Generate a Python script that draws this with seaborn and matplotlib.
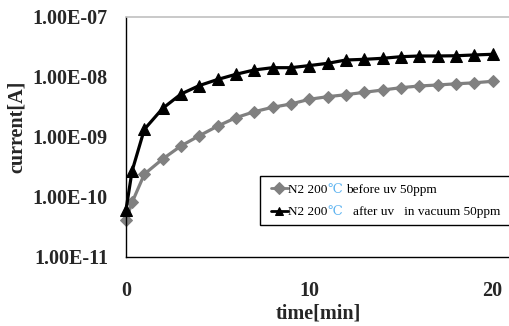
import numpy as np
import pandas as pd
import matplotlib
matplotlib.use("Agg")
import matplotlib.pyplot as plt
import matplotlib.text as mtext
from matplotlib.transforms import offset_copy
from matplotlib.ticker import FixedLocator, FixedFormatter, NullLocator
from matplotlib.legend_handler import HandlerLine2D
import seaborn as sns

time_min = [0, 0.33, 1, 2, 3, 4, 5, 6, 7, 8, 9, 10, 11, 12, 13, 14, 15, 16, 17, 18, 19, 20]
before_uv = [4.1e-11, 8.1e-11, 2.4e-10, 4.3e-10, 7.1e-10, 1.05e-9, 1.52e-9, 2.1e-9,
             2.64e-9, 3.13e-9, 3.55e-9, 4.25e-9, 4.7e-9, 5.07e-9, 5.56e-9, 6.07e-9,
             6.64e-9, 7.08e-9, 7.36e-9, 7.7e-9, 8.0e-9, 8.48e-9]
after_uv = [6.1e-11, 2.7e-10, 1.34e-9, 3.0e-9, 5.2e-9, 7.2e-9, 9.1e-9, 1.11e-8,
            1.31e-8, 1.43e-8, 1.43e-8, 1.55e-8, 1.69e-8, 1.92e-8, 1.97e-8, 2.05e-8,
            2.18e-8, 2.24e-8, 2.24e-8, 2.26e-8, 2.33e-8, 2.39e-8]
series_names = ["N2 200\u2103 before uv 50ppm", "N2 200\u2103   after uv   in vacuum 50ppm"]
y_ticks = [1e-11, 1e-10, 1e-9, 1e-8, 1e-7]
y_tick_labels = ["1.00E-11", "1.00E-10", "1.00E-09", "1.00E-08", "1.00E-07"]
x_ticks = [0, 10, 20]
x_tick_labels = ["0", "10", "20"]

df = pd.DataFrame({
    "time": time_min * 2,
    "current": before_uv + after_uv,
    "series": [series_names[0]] * len(time_min) + [series_names[1]] * len(time_min),
})

sns.set_style("white")
serif = ["Liberation Serif", "DejaVu Serif"]
plt.rcParams["font.family"] = serif

fig = plt.figure(figsize=(5.10, 3.26), dpi=100)
ax = fig.add_axes([126 / 510, 69 / 326, 384 / 510, 240 / 326])

gray = "#808080"
black = "#000000"
sns.lineplot(data=df, x="time", y="current", hue="series", style="series",
             markers=["D", "^"], dashes=False, palette=[gray, black],
             linewidth=2.3, markersize=7, legend=False, ax=ax)

for line in ax.lines:
    line.set_markeredgecolor(line.get_color())
    line.set_clip_on(False)
ax.lines[0].set_markersize(6.5)
ax.lines[1].set_markersize(8)

ax.set_yscale("log")
ax.set_ylim(1e-11, 1e-7)
ax.set_xlim(0, 20.95)
ax.yaxis.set_major_locator(FixedLocator(y_ticks))
ax.yaxis.set_major_formatter(FixedFormatter(y_tick_labels))
ax.yaxis.set_minor_locator(NullLocator())
ax.xaxis.set_major_locator(FixedLocator(x_ticks))
ax.xaxis.set_major_formatter(FixedFormatter(x_tick_labels))
ax.tick_params(axis="both", direction="in", length=5, width=1, color="black",
               labelsize=14.5)
ax.tick_params(axis="y", pad=13)
ax.tick_params(axis="x", pad=17)
for lab in ax.get_xticklabels() + ax.get_yticklabels():
    lab.set_fontweight("bold")

for s in ["left", "bottom"]:
    ax.spines[s].set_color("black")
    ax.spines[s].set_linewidth(1.0)
ax.spines["top"].set_color("#c0c0c0")
ax.spines["top"].set_linewidth(1.2)
ax.spines["right"].set_visible(False)

ax.set_xlabel("time[min]", fontsize=14.5, fontweight="bold", labelpad=1.8)
ax.set_ylabel("current[A]", fontsize=14.5, fontweight="bold")
ax.yaxis.set_label_coords((27 - 126) / 384, (257 - 127) / 240)


class RightHandler(HandlerLine2D):
    def get_xdata(self, legend, xdescent, ydescent, width, height, fontsize):
        x0 = -xdescent + 0.2 * width
        x1 = -xdescent + width
        return np.array([x0, x1]), np.array([0.5 * (x0 + x1)])


# hidden layout labels (a trailing 'x' widens the frame; the text itself is redrawn below)
legend_labels = [n + " x" for n in series_names]
leg = ax.legend(handles=ax.lines[:2], labels=legend_labels, loc="lower left",
                bbox_to_anchor=(0.349, 0.133), frameon=True, fancybox=False,
                edgecolor="black", framealpha=1, fontsize=9.5, handlelength=1.6,
                handletextpad=0.05, borderpad=0.5, labelspacing=0.75,
                borderaxespad=0,
                handler_map={ax.lines[0]: RightHandler(), ax.lines[1]: RightHandler()})
leg.get_frame().set_linewidth(1.0)
for h in leg.legend_handles:
    h.set_markersize(6)
    h.set_linewidth(2)

fig.canvas.draw()
renderer = fig.canvas.get_renderer()
for t, full in zip(leg.get_texts(), series_names):
    prop = t.get_fontproperties()
    idx = full.index("\u2103")
    rest = full[idx + 1:].lstrip()
    parts = [(full[:idx], None, "black"),
             ("\u2103", full[:idx + 1], "#5fb4f0"),
             (rest, full, "black")]
    x0, y0 = t.get_position()
    for seg, upto, col in parts:
        if upto is None:
            dx = 0.0
        else:
            w_up, _, _ = renderer.get_text_width_height_descent(upto, prop, ismath=False)
            w_seg, _, _ = renderer.get_text_width_height_descent(seg, prop, ismath=False)
            dx = (w_up - w_seg) * 72.0 / fig.dpi
        tr = offset_copy(t.get_transform(), fig=fig, x=dx, y=0, units="points")
        ov = mtext.Text(x0, y0, seg, fontproperties=prop, color=col,
                        ha=t.get_ha(), va=t.get_va(), transform=tr, zorder=10)
        fig.add_artist(ov)
    t.set_visible(False)

fig.savefig("out.png", dpi=100)
